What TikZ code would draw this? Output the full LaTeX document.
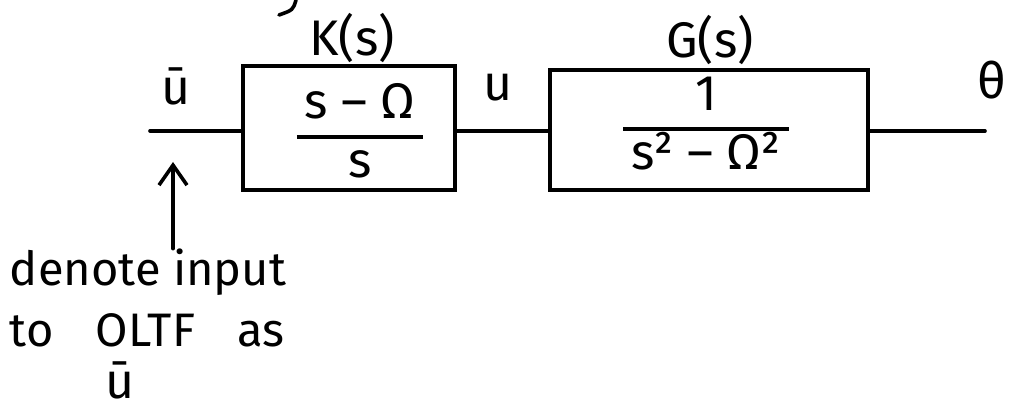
\documentclass[tikz,border=0pt]{standalone}
\usepackage{fontspec}
\setmainfont{Fira Sans}
\usetikzlibrary{arrows.meta}
% stacked fraction set in text: numerator, rule, denominator
\newcommand{\txtfrac}[2]{{\setlength{\arrayrulewidth}{1.6pt}\renewcommand{\arraystretch}{1}%
  \begin{tabular}{@{\hspace{4pt}}c@{\hspace{4pt}}}#1\\\hline #2\end{tabular}}}
\begin{document}
\begin{tikzpicture}[x=0.5pt,y=-0.5pt,
  every node/.style={inner sep=0pt, outer sep=0pt},
  wire/.style={line width=1.8pt, line cap=round},
  block/.style={draw, line width=1.8pt},
  lbl/.style={font=\fontsize{25}{30}\selectfont},
  frac/.style={font=\fontsize{25}{28}\selectfont},
  note/.style={font=\fontsize{23.5}{28}\selectfont, anchor=west}]
\useasboundingbox (0,0) rectangle (1010,411);

% small stroke at the top edge
\draw[wire] (296,0) .. controls (293,10) .. (279,15);

% blocks
\node[block, minimum width=106pt, minimum height=62pt] (K) at (349,128) {};
\node[block, minimum width=159pt, minimum height=60pt] (G) at (709,130) {};
\node[frac] (Kf) at (360,137) {\txtfrac{s – Ω}{s}};
\node[frac] (Gf) at (706,129) {\txtfrac{1}{s² – Ω²}};

% block titles
\node[lbl] (Klbl) at (352,38) {K(s)};
\node[lbl] (Glbl) at (710,40) {G(s)};

% signal labels
\node[lbl] (ubar) at (176,86) {ū};
\node[lbl] (u)    at (498,88) {u};
\node[lbl] (th)   at (992,80) {θ};

% signal path
\coordinate (in)  at (150,131);
\coordinate (out) at (985,131);
\draw[wire] (in) -- (K.west |- in);
\draw[wire] (K.east |- in) -- (G.west |- in);
\draw[wire] (G.east |- in) -- (out);

% note on the input
\node[note] (n1) at (10,272) {denote input};
\node[note] (n2) at (10,330) {to\hspace{21pt}OLTF\hspace{21pt}as};
\node[lbl]  (n3) at (120,380) {ū};
\coordinate (tip) at (173,162);
\draw[wire, -{Straight Barb[length=10pt,width=14pt,line width=1.8pt]}] (n1.north -| tip) -- (tip);
\end{tikzpicture}
\end{document}
